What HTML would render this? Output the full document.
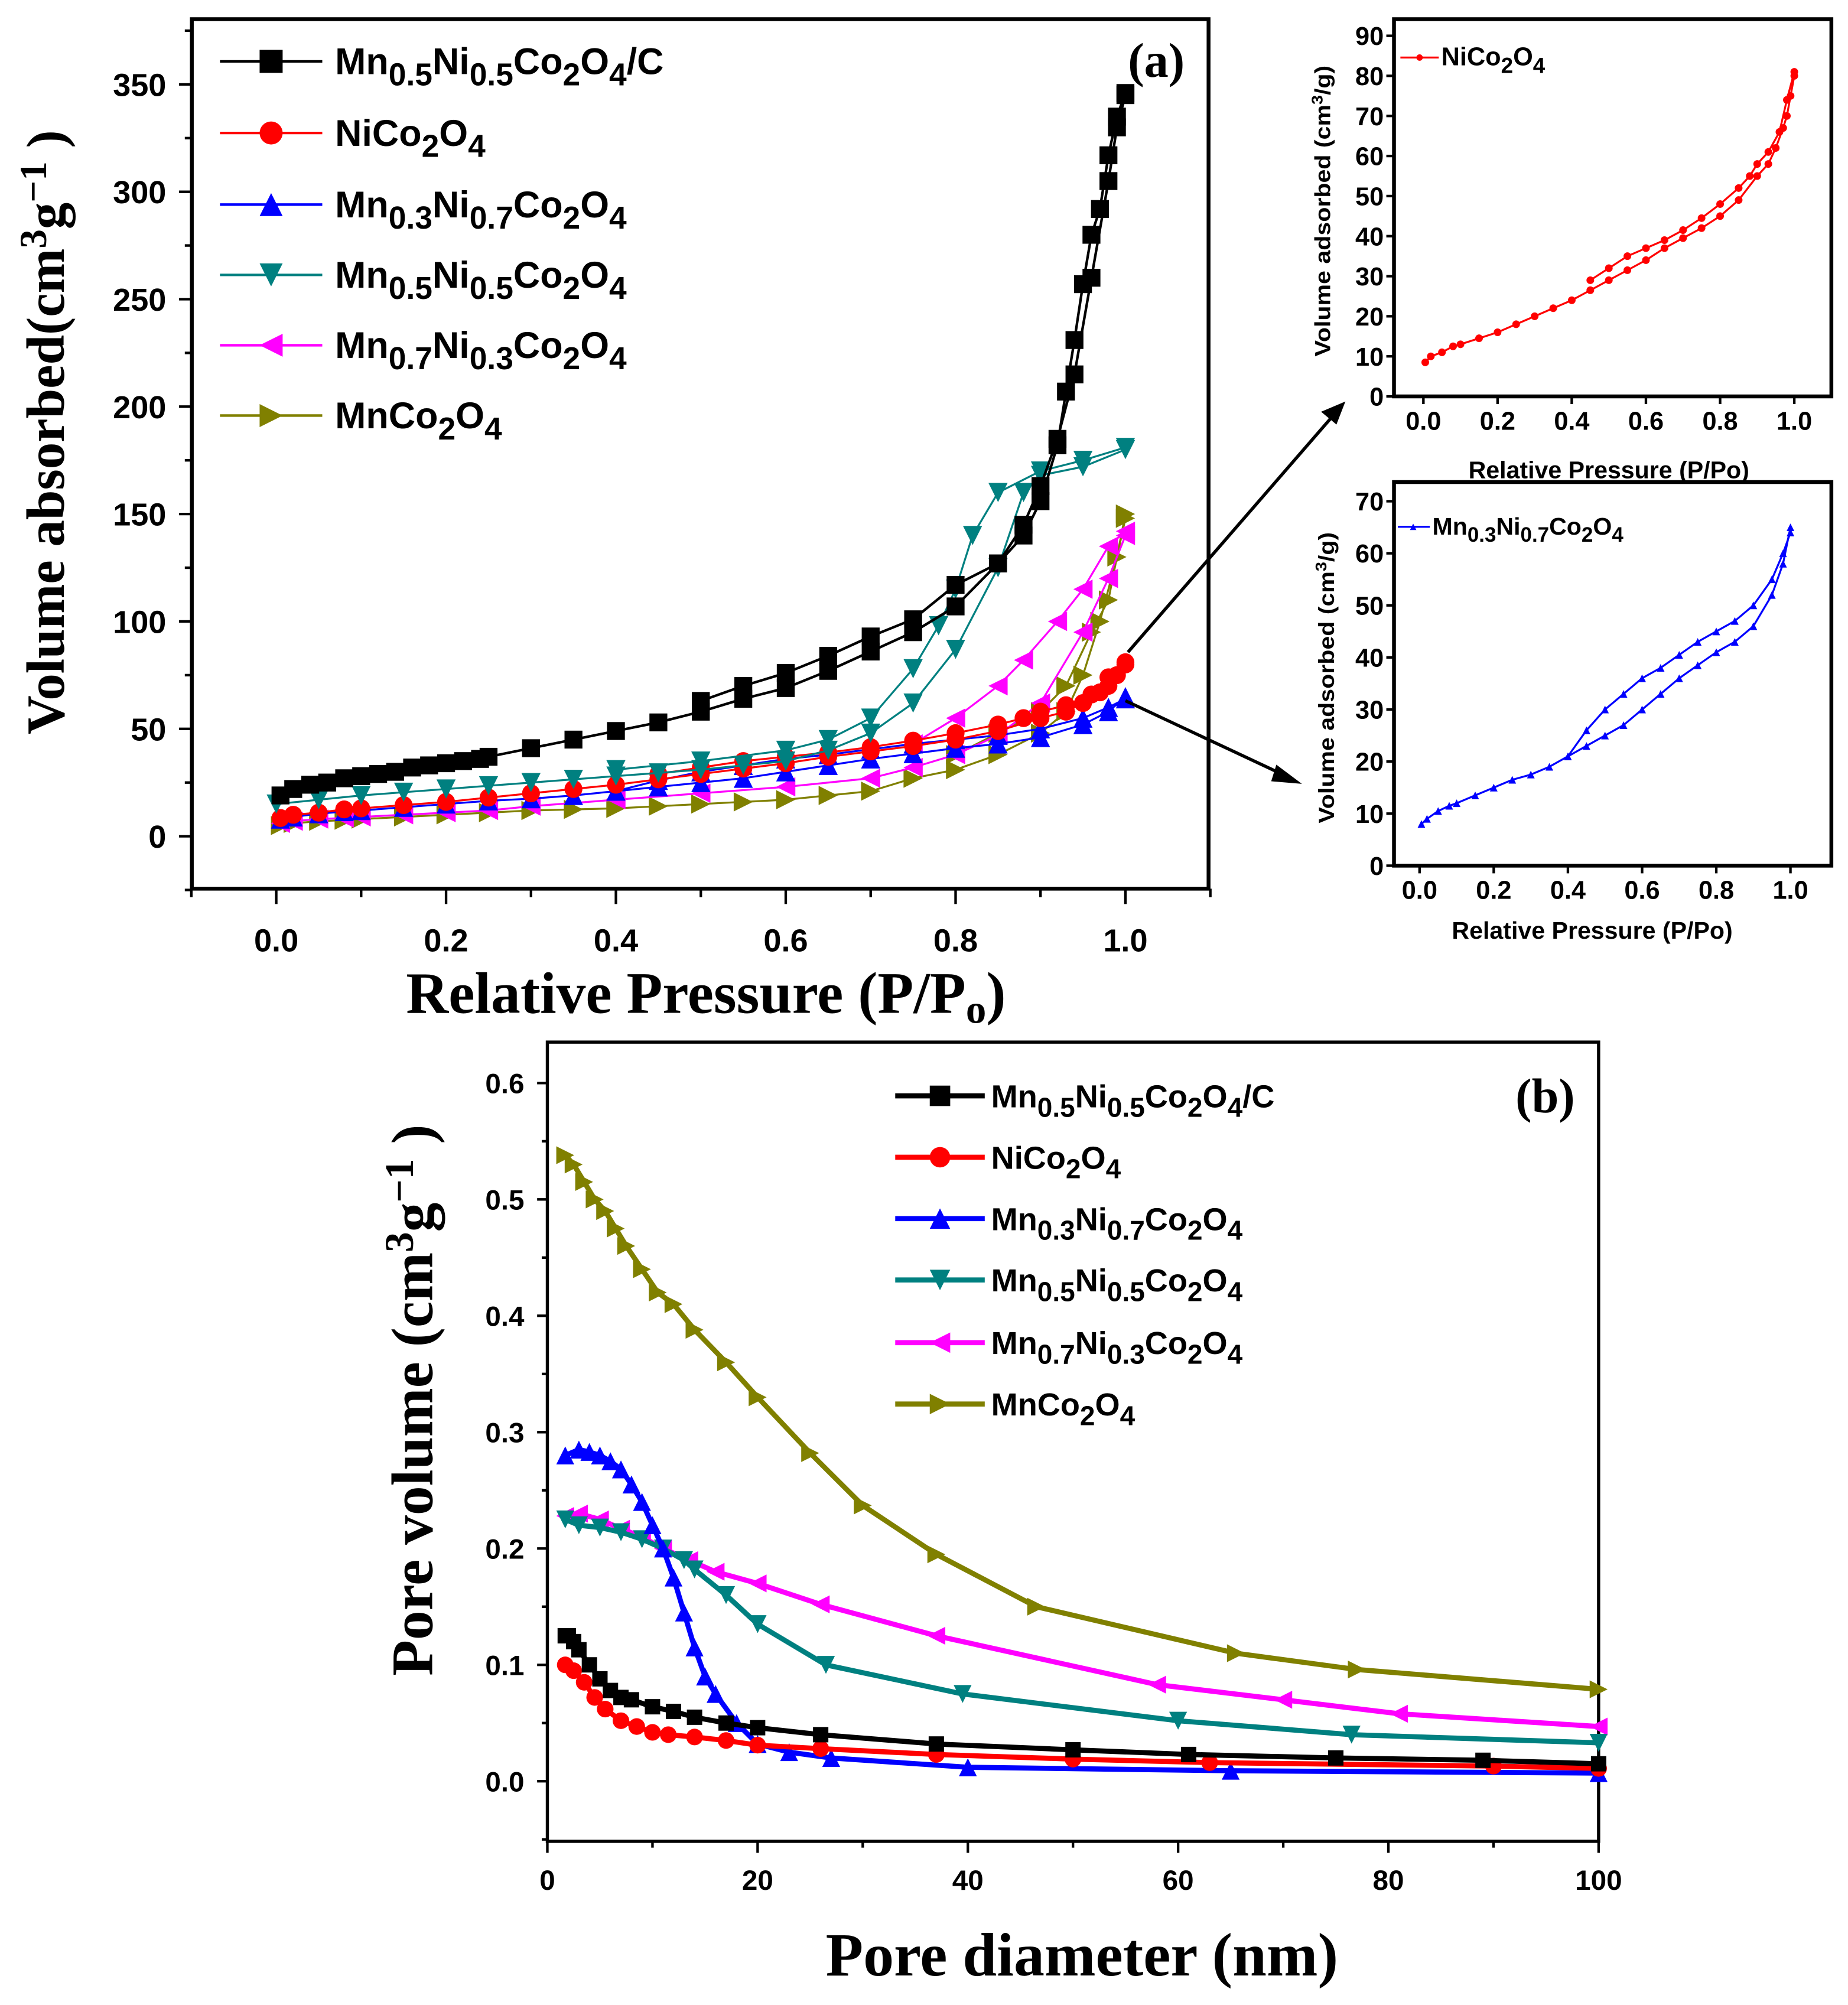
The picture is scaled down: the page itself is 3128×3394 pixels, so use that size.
<!DOCTYPE html>
<html><head><meta charset="utf-8"><style>
html,body{margin:0;padding:0;background:#fff;}
svg{display:block;}
.ser{font-family:"Liberation Serif",serif;font-weight:bold;}
.san{font-family:"Liberation Sans",sans-serif;font-weight:bold;}
</style></head><body>
<svg id="fig" width="3128" height="3394" viewBox="0 0 1445 1568" preserveAspectRatio="none" xmlns="http://www.w3.org/2000/svg"></svg>
<script>
// ---------- DATA ----------
const aBlackAdsP=[0.005,0.02,0.04,0.06,0.08,0.1,0.12,0.14,0.16,0.18,0.2,0.22,0.24,0.25,0.3,0.35,0.4,0.45,0.5,0.55,0.6,0.65,0.7,0.75,0.8,0.85,0.88,0.9,0.92,0.94,0.96,0.98,0.99,1.0];
const aBlackAdsV=[19,22,24,25,27,28,29,30,32,33,34,35,36,37,41,45,49,53,58,64,69,77,86,95,107,127,145,163,185,215,260,305,330,345];
const aBlackDesP=[1.0,0.99,0.98,0.97,0.96,0.95,0.94,0.93,0.92,0.9,0.88,0.85,0.8,0.75,0.7,0.65,0.6,0.55,0.5];
const aBlackDesV=[346,335,317,292,280,257,231,207,182,156,140,127,117,101,93,84,76,70,63];
const aTealAdsP=[0,0.05,0.1,0.15,0.2,0.25,0.3,0.35,0.4,0.45,0.5,0.55,0.6,0.65,0.7,0.75,0.8,0.85,0.88,0.9,0.95,1.0];
const aTealAdsV=[15,17,19,20.5,22,23.5,25,26.5,28,29.5,31,33,35,40,48,62,87,125,160,168,172,180];
const aTealDesP=[1.0,0.95,0.9,0.85,0.82,0.8,0.78,0.75,0.7,0.65,0.6,0.5,0.4];
const aTealDesV=[181,175,170,160,140,115,98,78,55,45,40,35,31];
const aRedAdsP=[0.005,0.02,0.05,0.08,0.1,0.15,0.2,0.25,0.3,0.35,0.4,0.45,0.5,0.55,0.6,0.65,0.7,0.75,0.8,0.85,0.9,0.93,0.95,0.97,0.98,0.99,1.0];
const aRedAdsV=[8.5,10,11,12.5,13,14.5,16,18,20,22,24,26.5,29,31.5,34,37,39.5,42,45,49,55,58,62,67,70,75,80];
const aRedDesP=[1.0,0.98,0.96,0.93,0.9,0.88,0.85,0.8,0.75,0.7,0.65,0.6,0.55,0.5,0.45];
const aRedDesV=[81,74,66,61,58,55,52,48,44.5,41.5,39,37,35,32,29];
const aBlueAdsP=[0.005,0.02,0.05,0.08,0.1,0.15,0.2,0.25,0.3,0.35,0.4,0.45,0.5,0.55,0.6,0.65,0.7,0.75,0.8,0.85,0.9,0.95,0.98,1.0];
const aBlueAdsV=[8,9,10.5,11.5,12,13.5,15,16.5,17.5,19,21,23,25,27,30,33,36,38.5,41,43,46,52,58,65];
const aBlueDesP=[1.0,0.98,0.95,0.9,0.85,0.8,0.75,0.7,0.65,0.6,0.55,0.5,0.45,0.4];
const aBlueDesV=[64,60,55,50,47,45,43,40.5,38,36,33,30,26,21];
const aMagAdsP=[0.005,0.02,0.05,0.08,0.1,0.15,0.2,0.25,0.3,0.4,0.5,0.6,0.7,0.75,0.8,0.85,0.9,0.95,0.98,1.0];
const aMagAdsV=[6,7,8,8.5,9,10,11,12,14,17,20,23,27,32,38,47,62,95,120,140];
const aMagDesP=[1.0,0.98,0.95,0.92,0.88,0.85,0.8,0.75];
const aMagDesV=[142,135,115,100,82,70,55,43];
const aOliveAdsP=[0.005,0.02,0.05,0.08,0.1,0.15,0.2,0.25,0.3,0.35,0.4,0.45,0.5,0.55,0.6,0.65,0.7,0.75,0.8,0.85,0.9,0.93,0.95,0.97,0.99,1.0];
const aOliveAdsV=[5,6,7,7.5,8,9,10,11,12,12.5,13,14,15,16,17,19,21,27,31,38,48,58,75,100,130,148];
const aOliveDesP=[1.0,0.98,0.96,0.93,0.9,0.85,0.8];
const aOliveDesV=[150,110,95,70,58,48,38];
const bBlackD=[1.7,2,2.5,3,4,5,6,7,8,10,12,14,17,20,26,37,50,61,75,89,100];
const bBlackV=[0.125,0.125,0.12,0.113,0.1,0.088,0.078,0.072,0.07,0.064,0.06,0.055,0.05,0.046,0.04,0.032,0.027,0.023,0.02,0.018,0.015];
const bRedD=[1.7,2.5,3.5,4.5,5.5,7,8.5,10,11.5,14,17,20,26,37,50,63,90,100];
const bRedV=[0.1,0.095,0.085,0.072,0.062,0.052,0.047,0.042,0.04,0.038,0.035,0.031,0.028,0.023,0.019,0.016,0.013,0.011];
const bBlueD=[1.7,3,4,5,6,7,8,9,10,11,12,13,14,15,16,18,20,23,27,40,65,100];
const bBlueV=[0.28,0.285,0.283,0.28,0.275,0.268,0.255,0.24,0.22,0.2,0.175,0.145,0.115,0.09,0.075,0.05,0.032,0.025,0.02,0.012,0.009,0.007];
const bTealD=[1.7,3,5,7,9,11,13,14,17,20,26.5,39.5,60,76.5,100];
const bTealV=[0.225,0.22,0.218,0.214,0.208,0.2,0.19,0.182,0.16,0.135,0.1,0.075,0.052,0.04,0.033];
const bMagD=[1.7,3,5,7,9,11,13.5,16,20,26,37,58,70,81,100];
const bMagV=[0.228,0.23,0.225,0.217,0.21,0.2,0.19,0.18,0.17,0.152,0.125,0.083,0.07,0.058,0.047];
const bOliveD=[1.7,2.5,3.5,4.5,5.5,6.5,7.5,9,10.5,12,14,17,20,25,30,37,46.5,65.5,77,100];
const bOliveV=[0.538,0.53,0.515,0.5,0.49,0.475,0.46,0.44,0.42,0.41,0.388,0.36,0.33,0.282,0.237,0.195,0.15,0.11,0.096,0.079];
const aXTicks=[0,0.2,0.4,0.6,0.8,1.0];
const aYTicks=[0,50,100,150,200,250,300,350];
const bXTicks=[0,20,40,60,80,100];
const bYTicks=[0,0.1,0.2,0.3,0.4,0.5,0.6];
const i1YTicks=[0,10,20,30,40,50,60,70,80,90];
const i2YTicks=[0,10,20,30,40,50,60,70];

// ---------- HELPERS ----------
const NS="http://www.w3.org/2000/svg";
const svg=document.getElementById('fig');
function el(tag,attrs,parent){const e=document.createElementNS(NS,tag);for(const k in attrs)e.setAttribute(k,attrs[k]);(parent||svg).appendChild(e);return e;}
function lin(d0,d1,r0,r1){return v=>r0+(v-d0)*(r1-r0)/(d1-d0);}
function marker(g,type,x,y,s,color){
  let m;
  if(type==='sq')m=el('rect',{x:x-s/2,y:y-s/2,width:s,height:s,fill:color},g);
  else if(type==='ci')m=el('circle',{cx:x,cy:y,r:s/2,fill:color},g);
  else{let p;
    if(type==='up')p=[[x,y-s/2],[x+s/2,y+s/2],[x-s/2,y+s/2]];
    else if(type==='dn')p=[[x-s/2,y-s/2],[x+s/2,y-s/2],[x,y+s/2]];
    else if(type==='lt')p=[[x-s/2,y],[x+s/2,y-s/2],[x+s/2,y+s/2]];
    else p=[[x+s/2,y],[x-s/2,y-s/2],[x-s/2,y+s/2]];
    m=el('polygon',{points:p.map(q=>q.join(',')).join(' '),fill:color},g);}
  return m;
}
function series(name,xs,ys,sx,sy,color,type,ms,lw){
  const g=el('g',{});
  
  
  el('polyline',{points:xs.map((x,i)=>sx(x)+','+sy(ys[i])).join(' '),fill:'none',stroke:color,'stroke-width':lw},g);
  xs.forEach((x,i)=>{const m=marker(g,type,sx(x),sy(ys[i]),ms,color);
    
    });
}
function formula(t,x,y,parts,size,cls,anchor){
  const te=el('text',{x:x,y:y,'font-size':size,class:cls,'text-anchor':anchor||'start'},t);
  parts.forEach(p=>{const ts=el('tspan',{},te);
    if(p[1]==='sub'){ts.setAttribute('dy',size*0.3);ts.setAttribute('font-size',size*0.85);}
    if(p[1]==='back'){ts.setAttribute('dy',-size*0.3);}
    ts.textContent=p[0];});
  return te;
}
function F(str){
  const out=[];const toks=str.split(/([_^])/);let mode='n';
  for(const t of toks){if(t==='_'){mode='sub';continue;}if(t==='^'){mode='back';continue;}if(t)out.push([t,mode]);mode='n';}
  return out;
}
function frame(name,x0,y0,x1,y1,w){
  const r=el('rect',{x:x0,y:y0,width:x1-x0,height:y1-y0,fill:'none',stroke:'#000','stroke-width':w});
  
  
}
function xTicks(ticks,sx,yb,len,fmt,ly,fs,cls,minor){
  ticks.forEach(t=>{el('line',{x1:sx(t),x2:sx(t),y1:yb,y2:yb+len,stroke:'#000','stroke-width':2});
    const tx=el('text',{x:sx(t),y:ly,'font-size':fs,class:cls,'text-anchor':'middle'});tx.textContent=fmt(t);
    });
  if(minor)minor.forEach(t=>el('line',{x1:sx(t),x2:sx(t),y1:yb,y2:yb+len*0.55,stroke:'#000','stroke-width':2}));
}
function yTicks(ticks,sy,xl,len,fmt,lx,fs,cls,minor){
  ticks.forEach(t=>{el('line',{x1:xl,x2:xl-len,y1:sy(t),y2:sy(t),stroke:'#000','stroke-width':2});
    const tx=el('text',{x:lx,y:sy(t)+fs*0.36,'font-size':fs,class:cls,'text-anchor':'end'});tx.textContent=fmt(t);
    });
  if(minor)minor.forEach(t=>el('line',{x1:xl,x2:xl-len*0.55,y1:sy(t),y2:sy(t),stroke:'#000','stroke-width':2}));
}

// ---------- PANEL (a) ----------
const ax=lin(0,1,216,880), ay=lin(0,350,654,66);
frame('panel-a-frame',150,15,945,695,3);
xTicks(aXTicks,ax,695,12,t=>t.toFixed(1),744,25,'san',[-0.1,0.1,0.3,0.5,0.7,0.9,1.1]);
yTicks(aYTicks,ay,150,10,t=>String(t),130,25,'san',[-25,25,75,125,175,225,275,325,375]);
series('olive-adsorption',aOliveAdsP,aOliveAdsV,ax,ay,'#808000','rt',15,1.5);
series('olive-desorption',aOliveDesP,aOliveDesV,ax,ay,'#808000','rt',15,1.5);
series('magenta-adsorption',aMagAdsP,aMagAdsV,ax,ay,'#ff00ff','lt',15,1.5);
series('magenta-desorption',aMagDesP,aMagDesV,ax,ay,'#ff00ff','lt',15,1.5);
series('blue-adsorption',aBlueAdsP,aBlueAdsV,ax,ay,'#0000ff','up',15,1.5);
series('blue-desorption',aBlueDesP,aBlueDesV,ax,ay,'#0000ff','up',15,1.5);
series('red-adsorption',aRedAdsP,aRedAdsV,ax,ay,'#ff0000','ci',14,1.5);
series('red-desorption',aRedDesP,aRedDesV,ax,ay,'#ff0000','ci',14,1.5);
series('teal-adsorption',aTealAdsP,aTealAdsV,ax,ay,'#008080','dn',15,1.5);
series('teal-desorption',aTealDesP,aTealDesV,ax,ay,'#008080','dn',15,1.5);
series('black-adsorption',aBlackAdsP,aBlackAdsV,ax,ay,'#000','sq',14,2);
series('black-desorption',aBlackDesP,aBlackDesV,ax,ay,'#000','sq',14,2);
const legA=[['#000','sq','Mn_0.5^Ni_0.5^Co_2^O_4^/C',48],['#ff0000','ci','NiCo_2^O_4^',104],['#0000ff','up','Mn_0.3^Ni_0.7^Co_2^O_4^',160],['#008080','dn','Mn_0.5^Ni_0.5^Co_2^O_4^',215],['#ff00ff','lt','Mn_0.7^Ni_0.3^Co_2^O_4^',270],['#808000','rt','MnCo_2^O_4^',325]];
legA.forEach(l=>{const g=el('g',{});
  
  el('line',{x1:172,x2:252,y1:l[3],y2:l[3],stroke:l[0],'stroke-width':2},g);
  marker(g,l[1],212,l[3],18,l[0]);
  formula(g,262,l[3]+10,F(l[2]),29,'san');});
let t=el('text',{x:882,y:60,'font-size':38,class:'ser'});t.textContent='(a)';

t=el('text',{x:552,y:792,'font-size':46,class:'ser','text-anchor':'middle'});
t.innerHTML='Relative Pressure (P/P<tspan dy="8" font-size="32">o</tspan><tspan dy="-8">)</tspan>';

t=el('text',{x:0,y:0,'font-size':42,class:'ser','text-anchor':'middle',transform:'translate(50,338) rotate(-90)'});
t.innerHTML='Volume absorbed(cm<tspan dy="-14" font-size="30">3</tspan><tspan dy="14">g</tspan><tspan dy="-14" font-size="30">−1</tspan><tspan dy="14"> )</tspan>';


el('line',{x1:882,y1:510,x2:1045,y2:322,stroke:'#000','stroke-width':2.5});
el('polygon',{points:'1052,314 1033,322 1045,332',fill:'#000'});
el('line',{x1:880,y1:548,x2:1008,y2:608,stroke:'#000','stroke-width':2.5});
el('polygon',{points:'1018,613 998,598 994,611',fill:'#000'});

// ---------- INSET 1 ----------
const i1x=lin(0,1,1113,1403), i1y=lin(0,90,310,28);
frame('inset-nico2o4-frame',1090,15,1432,310,3);
xTicks(aXTicks,i1x,310,6,v=>v.toFixed(1),336,20,'san');
yTicks(i1YTicks,i1y,1090,6,v=>String(v),1082,20,'san');
series('inset1-adsorption',aRedAdsP,aRedAdsV,i1x,i1y,'#ff0000','ci',6,1.5);
series('inset1-desorption',aRedDesP,aRedDesV,i1x,i1y,'#ff0000','ci',6,1.5);
el('line',{x1:1095,x2:1125,y1:45,y2:45,stroke:'#ff0000','stroke-width':1.5});
marker(svg,'ci',1110,45,5,'#ff0000');
formula(svg,1127,51,F('NiCo_2^O_4^'),20,'san');
t=el('text',{x:1258,y:374,'font-size':19,class:'san','text-anchor':'middle'});t.textContent='Relative Pressure (P/Po)';

t=el('text',{x:0,y:0,'font-size':20,class:'san','text-anchor':'middle',transform:'translate(1040,165) rotate(-90) scale(0.95,0.85)'});
t.innerHTML='Volume adsorbed (cm<tspan dy="-7" font-size="14">3</tspan><tspan dy="7">/g)</tspan>';


// ---------- INSET 2 ----------
const i2x=lin(0,1,1110,1400), i2y=lin(0,70,677,392);
frame('inset-mn03-frame',1090,377,1432,677,3);
xTicks(aXTicks,i2x,677,6,v=>v.toFixed(1),703,20,'san');
yTicks(i2YTicks,i2y,1090,6,v=>String(v),1082,20,'san');
series('inset2-adsorption',aBlueAdsP,aBlueAdsV,i2x,i2y,'#0000ff','up',6,1.5);
series('inset2-desorption',aBlueDesP,aBlueDesV,i2x,i2y,'#0000ff','up',6,1.5);
el('line',{x1:1093,x2:1118,y1:412,y2:412,stroke:'#0000ff','stroke-width':1.5});
marker(svg,'up',1105,412,5,'#0000ff');
formula(svg,1120,418,F('Mn_0.3^Ni_0.7^Co_2^O_4^'),19,'san');
t=el('text',{x:1245,y:734,'font-size':19,class:'san','text-anchor':'middle'});t.textContent='Relative Pressure (P/Po)';

t=el('text',{x:0,y:0,'font-size':20,class:'san','text-anchor':'middle',transform:'translate(1043,530) rotate(-90) scale(0.95,0.85)'});
t.innerHTML='Volume adsorbed (cm<tspan dy="-7" font-size="14">3</tspan><tspan dy="7">/g)</tspan>';


// ---------- PANEL (b) ----------
const bx=lin(0,100,428,1250), by=lin(0,0.6,1393,847);
frame('panel-b-frame',428,815,1250,1440,2.5);
xTicks(bXTicks,bx,1440,9,v=>String(v),1478,22,'san',[10,30,50,70,90]);
yTicks(bYTicks,by,428,8,v=>v.toFixed(1),410,22,'san',[-0.05,0.05,0.15,0.25,0.35,0.45,0.55]);
series('olive-psd',bOliveD,bOliveV,bx,by,'#808000','rt',14,4);
series('magenta-psd',bMagD,bMagV,bx,by,'#ff00ff','lt',14,4);
series('teal-psd',bTealD,bTealV,bx,by,'#008080','dn',14,4);
series('blue-psd',bBlueD,bBlueV,bx,by,'#0000ff','up',14,4);
series('red-psd',bRedD,bRedV,bx,by,'#ff0000','ci',13,4);
series('black-psd',bBlackD,bBlackV,bx,by,'#000','sq',12,4);
const legB=[['#000','sq','Mn_0.5^Ni_0.5^Co_2^O_4^/C',857],['#ff0000','ci','NiCo_2^O_4^',905],['#0000ff','up','Mn_0.3^Ni_0.7^Co_2^O_4^',953],['#008080','dn','Mn_0.5^Ni_0.5^Co_2^O_4^',1001],['#ff00ff','lt','Mn_0.7^Ni_0.3^Co_2^O_4^',1050],['#808000','rt','MnCo_2^O_4^',1098]];
legB.forEach(l=>{const g=el('g',{});
  
  el('line',{x1:700,x2:770,y1:l[3],y2:l[3],stroke:l[0],'stroke-width':4},g);
  marker(g,l[1],735,l[3],16,l[0]);
  formula(g,775,l[3]+9,F(l[2]),25,'san');});
t=el('text',{x:1185,y:870,'font-size':38,class:'ser'});t.textContent='(b)';

t=el('text',{x:846,y:1545,'font-size':48,class:'ser','text-anchor':'middle'});t.textContent='Pore diameter (nm)';

t=el('text',{x:0,y:0,'font-size':46,class:'ser','text-anchor':'middle',transform:'translate(338,1095) rotate(-90)'});
t.innerHTML='Pore volume (cm<tspan dy="-15" font-size="32">3</tspan><tspan dy="15">g</tspan><tspan dy="-15" font-size="32">−1</tspan><tspan dy="15"> )</tspan>';

</script>
</body></html>
